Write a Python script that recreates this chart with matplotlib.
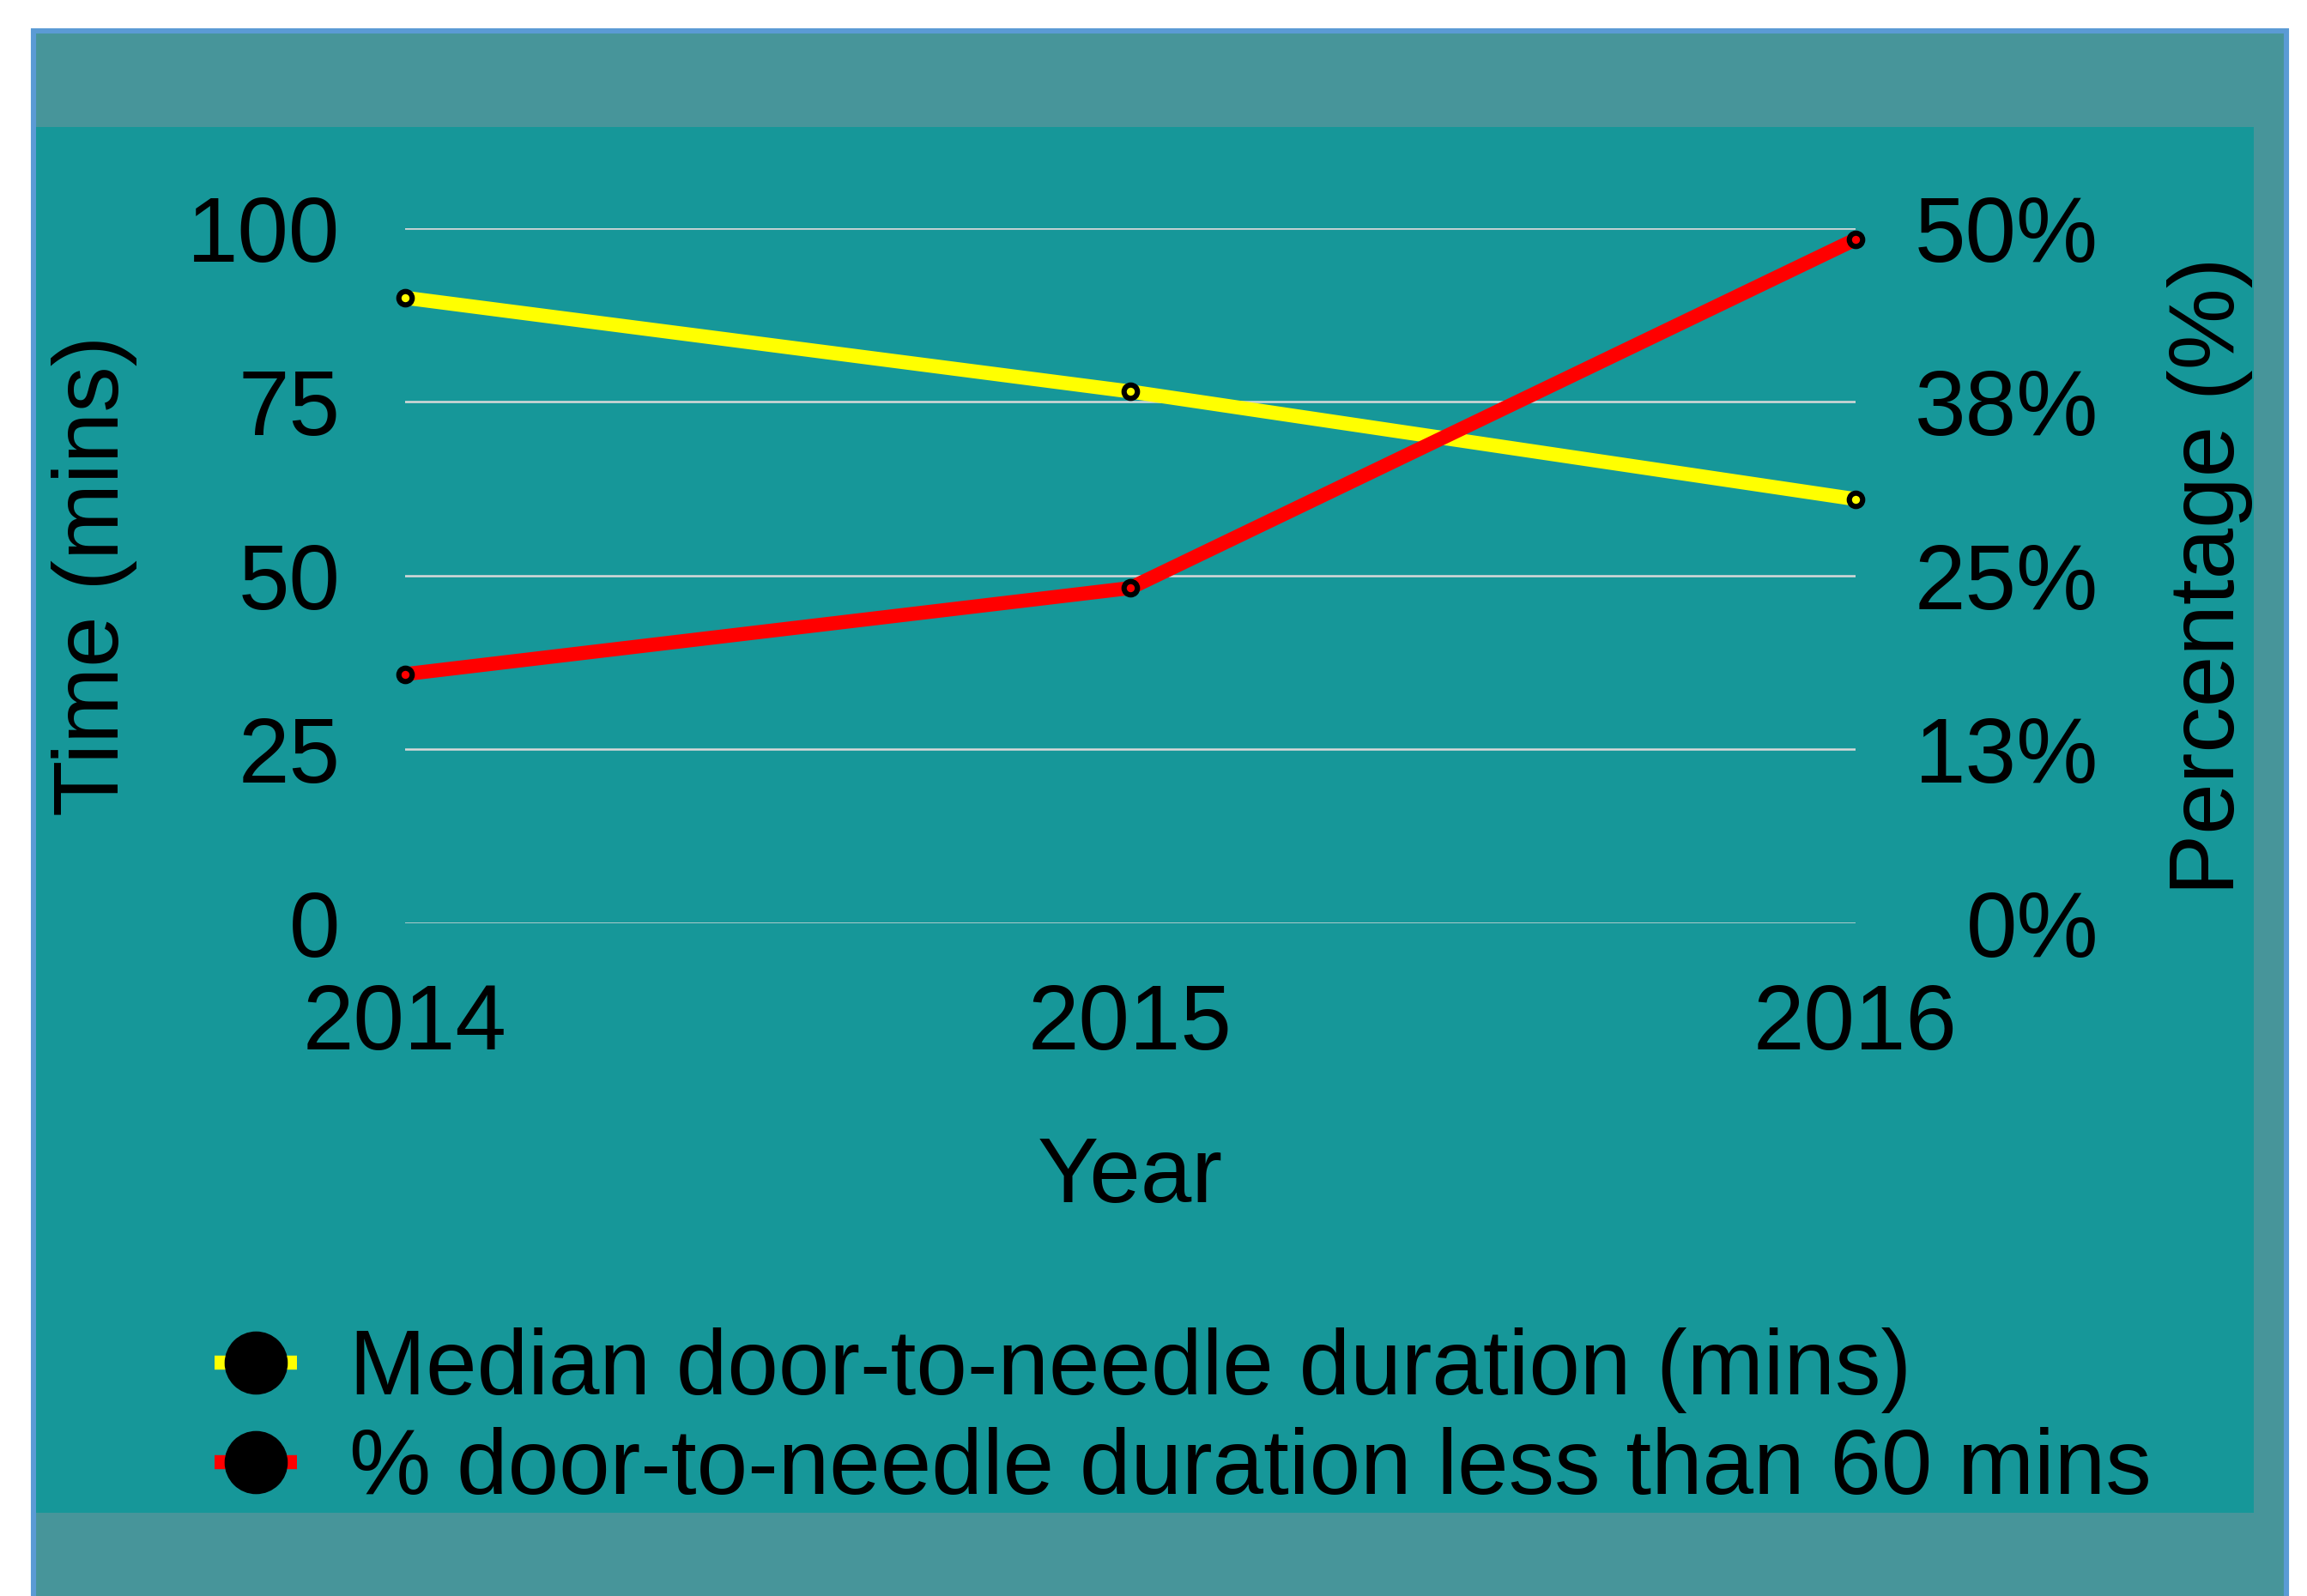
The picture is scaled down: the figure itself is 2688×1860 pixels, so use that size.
import matplotlib
matplotlib.use("Agg")
import matplotlib.pyplot as plt
from matplotlib.patches import Rectangle
from matplotlib.lines import Line2D
from matplotlib.transforms import Bbox, TransformedBbox

# ---- data ----
years = [2014, 2015, 2016]
median_dtn = [90, 76.5, 61]          # minutes (left axis)
pct_under_60 = [17.9, 24.1, 49.2]    # percent (right axis)
left_ticks = [0, 25, 50, 75, 100]
right_ticks = [0, 12.5, 25, 37.5, 50]
right_tick_labels = ["0%", "13%", "25%", "38%", "50%"]
series_labels = ["Median door-to-needle duration (mins)",
                 "% door-to-needle duration less than 60 mins"]

plt.rcParams['font.family'] = ['Liberation Sans', 'DejaVu Sans']

W, H, DPI = 2688, 1860, 200
fig = plt.figure(figsize=(W / DPI, H / DPI), dpi=DPI)
fig.patch.set_facecolor('white')

def fx(px):
    return px / W

def fy(py):
    return (H - py) / H

# outer band and border
outer = Rectangle((fx(39), fy(1900)), fx(2664) - fx(39), fy(36) - fy(1900),
                  transform=fig.transFigure, facecolor='#47959a',
                  edgecolor='#5b9bd5', linewidth=2.2, zorder=-3)
fig.add_artist(outer)
inner_x0, inner_x1, inner_y0, inner_y1 = 42, 2626, 148, 1763
inner = Rectangle((fx(inner_x0), fy(inner_y1)), fx(inner_x1) - fx(inner_x0),
                  fy(inner_y0) - fy(inner_y1), transform=fig.transFigure,
                  facecolor='#169799', edgecolor='none', zorder=-2)
fig.add_artist(inner)

FS = 38.5
ax_left, ax_right = 471.5, 2162
ax_top, ax_bottom = 266, 1075.5
ax = fig.add_axes([fx(ax_left), fy(ax_bottom), fx(ax_right) - fx(ax_left),
                   fy(ax_top) - fy(ax_bottom)])
ax.set_facecolor('none')
ax.set_xlim(2014, 2016)
ax.set_ylim(0, 100)
ax.set_yticks(left_ticks)
ax.set_xticks(years)
ax.set_xticklabels([str(y) for y in years])
ax.grid(axis='y', color='#d9d9d9', linewidth=0.9)
ax.set_axisbelow(True)
for s in ax.spines.values():
    s.set_visible(False)
ax.tick_params(axis='both', length=0, labelsize=FS, colors='black')
ax.tick_params(axis='y', pad=27)
ax.tick_params(axis='x', pad=25)

line_kw = dict(linewidth=5.9, marker='o', markersize=5.6,
               markeredgecolor='black', markeredgewidth=2.2, clip_on=False)
ax.plot(years, median_dtn, color='#ffff00', markerfacecolor='#ffff00',
        solid_capstyle='butt', **line_kw)

ax2 = ax.twinx()
ax2.set_ylim(0, 50)
ax2.set_yticks(right_ticks)
ax2.set_yticklabels(right_tick_labels)
for s in ax2.spines.values():
    s.set_visible(False)
ax2.tick_params(axis='y', length=0, labelsize=FS, pad=102)
for t in ax2.get_yticklabels():
    t.set_horizontalalignment('right')
ax2.plot(years, pct_under_60, color='#ff0000', markerfacecolor='#ff0000',
         solid_capstyle='butt', **line_kw)

ax.set_xlabel("Year", fontsize=FS)
ax.xaxis.set_label_coords(0.5, -0.306)
ax.set_ylabel("Time (mins)", fontsize=FS)
ax.yaxis.set_label_coords(-0.184, 0.5)
ax2.set_ylabel("Percentage (%)", fontsize=FS)
ax2.yaxis.set_label_coords(1.2147, 0.5)
clipbb = TransformedBbox(Bbox.from_extents(fx(inner_x0), fy(inner_y1),
                                           fx(inner_x1), fy(inner_y0)),
                         fig.transFigure)
ax2.yaxis.label.set_clip_box(clipbb)
ax2.yaxis.label.set_clip_on(True)

handles = [
    Line2D([], [], color='#ffff00', linewidth=5.9, marker='o', markersize=26,
           markerfacecolor='black', markeredgecolor='black', markeredgewidth=0.5,
           solid_capstyle='butt'),
    Line2D([], [], color='#ff0000', linewidth=5.9, marker='o', markersize=26,
           markerfacecolor='black', markeredgecolor='black', markeredgewidth=0.5,
           solid_capstyle='butt'),
]
fig.legend(handles, series_labels, loc='center left',
           bbox_to_anchor=(fx(250), fy(1655)), frameon=False, fontsize=FS,
           handlelength=0.9, handletextpad=0.57, labelspacing=0.15,
           borderpad=0, borderaxespad=0, numpoints=1)

fig.savefig("out.png", dpi=DPI, facecolor=fig.get_facecolor())
